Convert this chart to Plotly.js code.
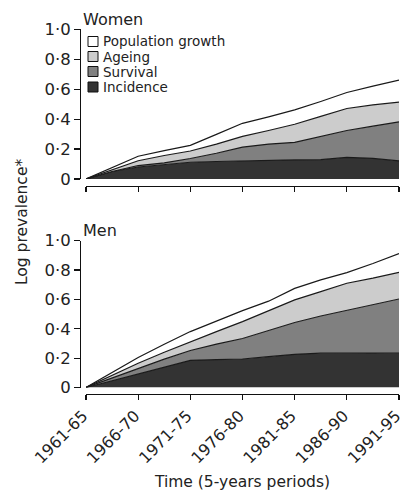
<!DOCTYPE html>
<html>
<head>
<meta charset="utf-8">
<script src="https://cdn.plot.ly/plotly-3.0.1.min.js"></script>
<style>html,body{margin:0;padding:0;background:#fff;}#chart{width:405px;height:491px;}</style>
</head>
<body>
<div id="chart"></div>
<script>
// ---- data ----
var periods = ['1961-65','1966-70','1971-75','1976-80','1981-85','1986-90','1991-95'];
var periodPos = [0, 1, 2, 3, 4, 5, 6];
// sample positions (half-period steps)
var xs = [0, 0.5, 1, 1.5, 2, 2.5, 3, 3.5, 4, 4.5, 5, 5.5, 6];

// cumulative log prevalence boundaries, women
var womenIncidence  = [0, 0.05, 0.08, 0.097, 0.112, 0.117, 0.122, 0.125, 0.128, 0.13, 0.144, 0.138, 0.121];
var womenSurvival   = [0, 0.05, 0.09, 0.108, 0.137, 0.172, 0.213, 0.233, 0.245, 0.285, 0.324, 0.353, 0.382];
var womenAgeing     = [0, 0.06, 0.122, 0.157, 0.187, 0.233, 0.285, 0.324, 0.366, 0.418, 0.471, 0.495, 0.513];
var womenPopulation = [0, 0.077, 0.152, 0.19, 0.225, 0.298, 0.372, 0.415, 0.462, 0.518, 0.578, 0.62, 0.661];

// cumulative log prevalence boundaries, men
var menIncidence  = [0, 0.047, 0.093, 0.14, 0.185, 0.19, 0.194, 0.21, 0.226, 0.234, 0.236, 0.235, 0.234];
var menSurvival   = [0, 0.065, 0.13, 0.193, 0.252, 0.296, 0.334, 0.39, 0.443, 0.487, 0.525, 0.563, 0.603];
var menAgeing     = [0, 0.085, 0.165, 0.24, 0.313, 0.381, 0.449, 0.524, 0.597, 0.653, 0.71, 0.745, 0.785];
var menPopulation = [0, 0.105, 0.205, 0.295, 0.381, 0.452, 0.524, 0.588, 0.675, 0.733, 0.783, 0.845, 0.912];

var seriesNames = ['Incidence', 'Survival', 'Ageing', 'Population growth'];
var yTickVals = [0, 0.2, 0.4, 0.6, 0.8, 1.0];
var yTickText = ['0', '0\u00b72', '0\u00b74', '0\u00b76', '0\u00b78', '1\u00b70'];

// ---- styles ----
var fills = ['#333333', '#808080', '#cccccc', '#ffffff'];
var lineCol = '#1a1a1a';
var FONT = 'DejaVu Sans, Liberation Sans, Arial, sans-serif';
var W = 405, H = 491;
function fx(px){ return px / W; }
function fy(px){ return 1 - px / H; }

var traces = [];
function addGroup(arrs, xa, ya){
  arrs.forEach(function(arr, i){
    traces.push({
      type: 'scatter', mode: 'lines', x: xs, y: arr,
      name: seriesNames[i], showlegend: false,
      xaxis: xa, yaxis: ya,
      fill: i === 0 ? 'tozeroy' : 'tonexty',
      fillcolor: fills[i],
      line: {color: lineCol, width: 1.2},
      hoverinfo: 'skip'
    });
  });
}
addGroup([womenIncidence, womenSurvival, womenAgeing, womenPopulation], 'x', 'y');
addGroup([menIncidence, menSurvival, menAgeing, menPopulation], 'x2', 'y2');

var xDomain = [fx(86), fx(399)];
var baseX = {
  domain: xDomain, range: [0, 6], anchor: 'free',
  tickmode: 'array', tickvals: periodPos, ticktext: periods,
  ticks: 'outside', ticklen: 5, tickwidth: 1.2, tickcolor: '#111',
  showline: true, linecolor: '#111', linewidth: 1.3,
  showgrid: false, zeroline: false, fixedrange: true,
  ticklabeloverflow: 'allow',
  tickfont: {family: FONT, size: 16, color: '#222'}
};
var baseY = {
  range: [0, 1], anchor: 'free', position: fx(80),
  tickmode: 'array', tickvals: yTickVals, ticktext: yTickText,
  ticks: 'outside', ticklen: 6, tickwidth: 1.2, tickcolor: '#111',
  showline: true, linecolor: '#111', linewidth: 1.3,
  showgrid: false, zeroline: false, fixedrange: true,
  ticklabeloverflow: 'allow',
  tickfont: {family: FONT, size: 16.5, color: '#222'}
};

var layout = {
  width: W, height: H,
  margin: {l: 0, r: 0, t: 0, b: 0},
  paper_bgcolor: '#fff', plot_bgcolor: 'rgba(0,0,0,0)',
  showlegend: false,
  font: {family: FONT, color: '#222'},
  xaxis: Object.assign({}, baseX, {position: fy(185.5), showticklabels: false}),
  yaxis: Object.assign({}, baseY, {domain: [fy(179), fy(29.3)]}),
  xaxis2: Object.assign({}, baseX, {position: fy(394), tickangle: -45, ticklabelshift: -3,
    title: {text: 'Time (5-years periods)', font: {family: FONT, size: 15.5, color: '#222'}, standoff: 16}}),
  yaxis2: Object.assign({}, baseY, {domain: [fy(387.5), fy(240.7)]}),
  shapes: [],
  annotations: [
    {text: 'Women', xref: 'paper', yref: 'paper', x: fx(81), y: fy(20), xanchor: 'left', yanchor: 'middle', showarrow: false, font: {family: FONT, size: 16, color: '#222'}},
    {text: 'Men', xref: 'paper', yref: 'paper', x: fx(81), y: fy(230.5), xanchor: 'left', yanchor: 'middle', showarrow: false, font: {family: FONT, size: 16, color: '#222'}},
    {text: 'Log prevalence*', xref: 'paper', yref: 'paper', x: fx(22), y: fy(222), xanchor: 'center', yanchor: 'middle', textangle: -90, showarrow: false, font: {family: FONT, size: 15.5, color: '#222'}}
  ]
};

// legend drawn as boxes + labels (top panel)
var legendOrder = [3, 2, 1, 0];
var legendY = [41.5, 56.5, 71.5, 87];
legendOrder.forEach(function(si, k){
  var cy = legendY[k];
  layout.shapes.push({type: 'rect', xref: 'paper', yref: 'paper',
    x0: fx(88), x1: fx(98), y0: fy(cy + 5), y1: fy(cy - 5),
    fillcolor: fills[si], line: {color: '#111', width: 1}});
  layout.annotations.push({text: seriesNames[si], xref: 'paper', yref: 'paper',
    x: fx(101), y: fy(cy), xanchor: 'left', yanchor: 'middle', showarrow: false,
    font: {family: FONT, size: 13.5, color: '#222'}});
});

Plotly.newPlot('chart', traces, layout, {displayModeBar: false, staticPlot: true});
</script>
</body>
</html>
